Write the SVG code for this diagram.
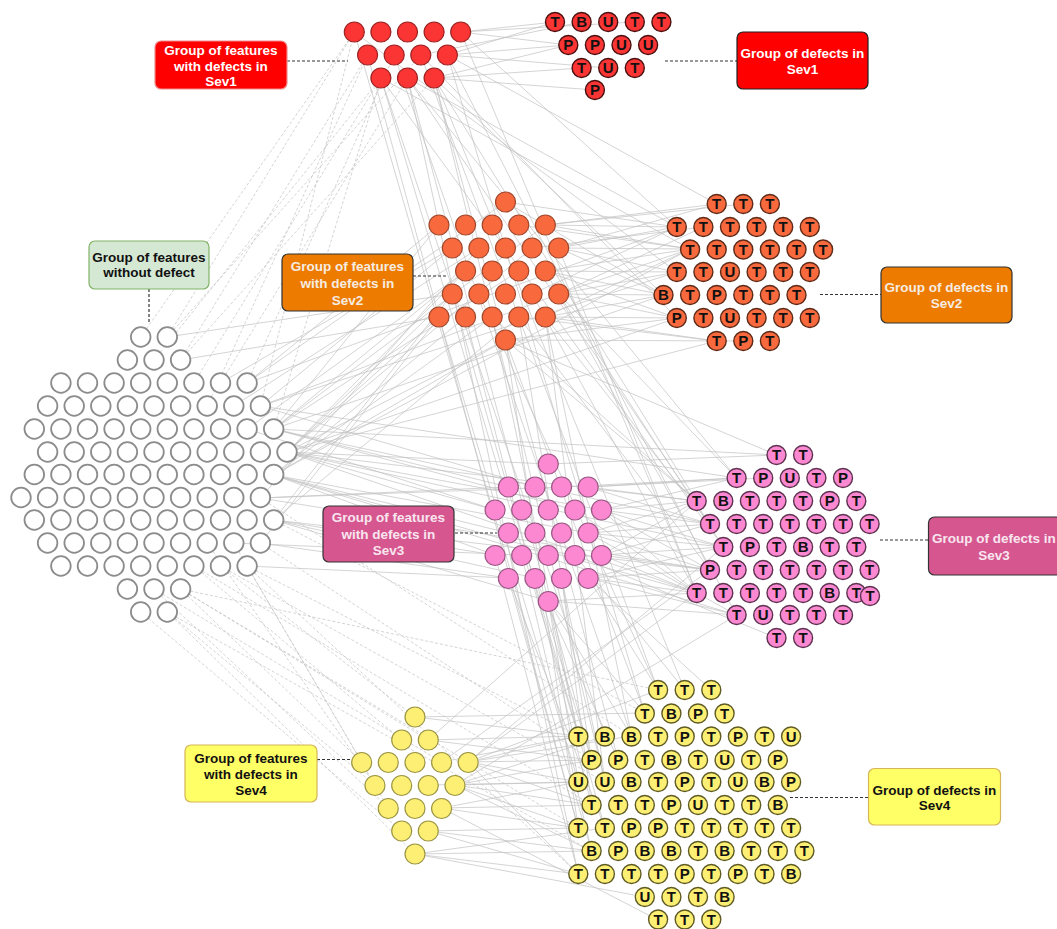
<svg xmlns="http://www.w3.org/2000/svg" width="1057" height="929" viewBox="0 0 1057 929">
<style>
.g{fill:#fff;stroke:#8c8c8c;stroke-width:1.8}
.r{fill:#fb3434;stroke:#9e2020;stroke-width:1.2}
.rd{fill:#fb3434;stroke:#4a1010;stroke-width:1.4}
.o{fill:#f86a3e;stroke:#a2462a;stroke-width:1.2}
.od{fill:#f86a3e;stroke:#5e2a18;stroke-width:1.4}
.p{fill:#fb88d0;stroke:#9a5684;stroke-width:1.2}
.pd{fill:#fb88d0;stroke:#5e3250;stroke-width:1.4}
.y{fill:#fdef74;stroke:#9b9542;stroke-width:1.2}
.yd{fill:#fdef74;stroke:#5e5a22;stroke-width:1.4}
.l{font-family:"Liberation Sans",Arial,sans-serif;font-size:15px;font-weight:bold;text-anchor:middle;fill:#111}
.lb{font-family:"Liberation Sans",Arial,sans-serif;font-size:13.5px;font-weight:bold;text-anchor:middle}
.lead{stroke:#333;stroke-width:1.2;stroke-dasharray:3 2;fill:none}
.c{stroke:#c2c2c2;stroke-width:0.7;fill:none}
.cd{stroke:#c2c2c2;stroke-width:0.7;fill:none;stroke-dasharray:3 2}
</style>
<rect width="1057" height="929" fill="#fff"/>
<g id="connectors">
<path class="c" d="M287 452L439 317M287 452L452.3 294M273.7 429L465.6 271M273.7 429L439 225M260.4 406L452.3 248M273.7 475L465.6 317M273.7 475L492.2 317M287 452L505.5 340M260.4 498L478.9 248M247.1 383L439 225M247.1 383L505.5 202M220.5 383L452.3 248M273.7 520L518.8 317M180.6 360L439 317M167.3 337L452.3 294M287 452L532.1 248M273.7 429L545.4 225M260.4 406L558.7 294M273.7 475L505.5 340M247.1 429L465.6 271M233.8 406L478.9 248M287 452L465.6 271M273.7 520L452.3 294M260.4 543L439 317M273.7 429L518.8 271"/>
<path class="cd" d="M167.3 337L354.3 32M180.6 360L367.6 55M154 360L380.9 78M140.7 337L354.3 32M193.9 383L380.9 78M220.5 383L407.5 78M247.1 383L394.2 55M167.3 337L420.8 55M180.6 360L434.1 78M260.4 406L354.3 32M207.2 406L367.6 55M273.7 429L380.9 78"/>
<path class="c" d="M287 452L495.1 510M273.7 475L508.4 533M273.7 520L495.1 555M260.4 498L508.4 487M287 452L548.3 464M273.7 429L508.4 487M273.7 475L495.1 555M260.4 543L508.4 578M273.7 520L548.3 601M247.1 566L508.4 578M287 452L601.5 510M273.7 429L574.9 510M273.7 475L588.2 533M260.4 498L561.6 487M273.7 520L535 578M260.4 406L535 487M247.1 429L495.1 510M233.8 543L521.7 555"/>
<path class="c" d="M287 452L696.7 501M273.7 429L710 524M273.7 475L696.7 593M287 452L723.3 547M273.7 520L710 570M260.4 406L736.6 478M273.7 429L776.5 455M273.7 475L736.6 615M287 452L696.7 593M260.4 498L710 570"/>
<path class="cd" d="M180.6 589L361.7 762M167.3 612L375 785M154 589L388.3 808M193.9 566L401.7 740M220.5 566L415 717M140.7 612L401.7 831M167.3 612L415 854M180.6 589L428.3 740M247.1 566L361.7 762M207.2 543L375 785M233.8 543L388.3 808M154 589L441.6 762"/>
<path class="cd" d="M247.1 566L578.3 736M260.4 543L591.6 760M180.6 589L578.3 828M167.3 612L591.6 851M273.7 520L644.8 713M247.1 566L578.3 874M220.5 566L604.9 782M180.6 589L658.1 690M260.4 498L631.5 736M193.9 566L591.6 805"/>
<path class="c" d="M460.7 32L555 22M447.4 55L568.3 45M434.1 78L581.6 68M460.7 32L568.3 45M447.4 55L555 22M434.1 78L594.9 90M460.7 32L634.8 22M447.4 55L608.2 68M420.8 55L581.6 22M434.1 78L568.3 45"/>
<path class="c" d="M407.5 78L676.8 227M434.1 78L663.5 295M380.9 78L690.1 249M434.1 78L696.7 501M407.5 78L710 524M447.4 55L716.7 204M460.7 32L676.8 227M380.9 78L578.3 736M407.5 78L591.6 760M434.1 78L604.9 782M394.2 55L631.5 736M420.8 55L658.1 690M447.4 55L644.8 713M367.6 55L578.3 828M380.9 78L723.3 547M407.5 78L736.6 478M354.3 32L591.6 851M434.1 78L684.7 690M460.7 32L696.7 593M420.8 55L676.8 318M407.5 78L578.3 874M447.4 55L710 570M380.9 78L604.9 736M354.3 32L676.8 272M434.1 78L618.2 760"/>
<path class="c" d="M558.7 248L676.8 227M545.4 225L716.7 204M558.7 294L663.5 295M545.4 317L676.8 318M558.7 248L690.1 249M545.4 271L676.8 272M545.4 225L676.8 227M558.7 294L690.1 249M545.4 317L716.7 341M505.5 340L676.8 318M558.7 248L663.5 295M545.4 271L690.1 249M532.1 248L703.4 227M545.4 225L743.3 204M558.7 294L676.8 318M545.4 317L663.5 295M505.5 202L676.8 227M558.7 248L676.8 272M545.4 271L663.5 295M518.8 317L716.7 341M545.4 225L690.1 249M558.7 294L676.8 272M505.5 340L743.3 341M545.4 317L690.1 249M532.1 294L676.8 227M558.7 248L716.7 204M545.4 271L676.8 318M505.5 202L663.5 295M558.7 294L703.4 227M518.8 225L690.1 249"/>
<path class="c" d="M505.5 340L696.7 501M545.4 317L710 524M558.7 294L736.6 478M505.5 340L644.8 713M492.2 317L578.3 736M518.8 317L591.6 760M532.1 294L696.7 593M545.4 317L604.9 782M505.5 340L578.3 828M558.7 294L723.3 547M465.6 317L591.6 805M478.9 294L658.1 690M518.8 317L710 570M545.4 317L631.5 736M492.2 317L696.7 501M505.5 340L776.5 455M439 317L578.3 782M452.3 294L604.9 828M545.4 271L736.6 615M558.7 248L696.7 593"/>
<path class="c" d="M601.5 510L696.7 501M588.2 487L736.6 478M601.5 555L710 570M588.2 533L710 524M588.2 578L696.7 593M601.5 510L710 524M588.2 487L696.7 501M601.5 555L696.7 593M588.2 533L723.3 547M548.3 464L776.5 455M601.5 510L723.3 547M588.2 578L736.6 615M601.5 555L710 524M588.2 487L710 524M548.3 601L736.6 615M588.2 533L696.7 501M601.5 510L736.6 478M588.2 578L710 570M601.5 555L723.3 547M574.9 510L696.7 593M588.2 487L763.2 478M601.5 510L710 570M548.3 601L696.7 593M588.2 533L710 570M601.5 555L696.7 501M561.6 487L736.6 478M588.2 578L723.3 547M574.9 555L776.5 638M601.5 510L696.7 593M588.2 533L736.6 615"/>
<path class="c" d="M548.3 601L578.3 736M535 578L591.6 760M561.6 578L604.9 782M508.4 578L578.3 828M548.3 601L631.5 736M588.2 578L658.1 690M521.7 555L591.6 851M548.3 601L644.8 713M495.1 555L578.3 874M574.9 555L684.7 690M535 578L618.2 760M561.6 578L591.6 805M508.4 578L604.9 828M588.2 578L711.3 690M548.3 601L578.3 782"/>
<path class="c" d="M468.2 762L578.3 736M455 785L591.6 760M468.2 762L578.3 782M441.6 808L578.3 828M428.3 831L591.6 851M415 854L578.3 874M455 785L578.3 782M468.2 762L591.6 805M441.6 808L591.6 805M428.3 740L578.3 736M415 717L644.8 713M468.2 762L658.1 690M455 785L578.3 828M428.3 831L578.3 874M415 854L591.6 851M441.6 808L578.3 782M468.2 762L591.6 760M455 785L604.9 736M428.3 740L591.6 760M415 854L644.8 897M441.6 762L578.3 736M428.3 831L578.3 828M468.2 762L578.3 874M455 785L591.6 851M415 717L578.3 736M441.6 808L658.1 920M428.3 785L578.3 782M468.2 762L631.5 736M455 785L591.6 805M415 854L604.9 828"/>
<path class="c" d="M468.2 762L696.7 593M441.6 762L710 570M455 785L736.6 615M468.2 762L723.3 547M428.3 740L696.7 501M273.7 429L663.5 295M287 452L676.8 318M260.4 406L676.8 272M273.7 475L690.1 249M247.1 383L676.8 227M287 452L716.7 341"/>
</g>
<g id="leaders">
<path class="lead" d="M287 61H348M665 61H737M413 276H448M820 294.5H881M149 289V322M455 533H497M880 540H928M317 759.5H352M790 797.5H868"/>
</g>
<g id="features-no-defect">
<circle class="g" cx="140.7" cy="337" r="9.8"/><circle class="g" cx="167.3" cy="337" r="9.8"/>
<circle class="g" cx="127.4" cy="360" r="9.8"/><circle class="g" cx="154" cy="360" r="9.8"/><circle class="g" cx="180.6" cy="360" r="9.8"/>
<circle class="g" cx="60.9" cy="383" r="9.8"/><circle class="g" cx="87.5" cy="383" r="9.8"/><circle class="g" cx="114.1" cy="383" r="9.8"/><circle class="g" cx="140.7" cy="383" r="9.8"/><circle class="g" cx="167.3" cy="383" r="9.8"/><circle class="g" cx="193.9" cy="383" r="9.8"/><circle class="g" cx="220.5" cy="383" r="9.8"/><circle class="g" cx="247.1" cy="383" r="9.8"/>
<circle class="g" cx="47.6" cy="406" r="9.8"/><circle class="g" cx="74.2" cy="406" r="9.8"/><circle class="g" cx="100.8" cy="406" r="9.8"/><circle class="g" cx="127.4" cy="406" r="9.8"/><circle class="g" cx="154" cy="406" r="9.8"/><circle class="g" cx="180.6" cy="406" r="9.8"/><circle class="g" cx="207.2" cy="406" r="9.8"/><circle class="g" cx="233.8" cy="406" r="9.8"/><circle class="g" cx="260.4" cy="406" r="9.8"/>
<circle class="g" cx="34.3" cy="429" r="9.8"/><circle class="g" cx="60.9" cy="429" r="9.8"/><circle class="g" cx="87.5" cy="429" r="9.8"/><circle class="g" cx="114.1" cy="429" r="9.8"/><circle class="g" cx="140.7" cy="429" r="9.8"/><circle class="g" cx="167.3" cy="429" r="9.8"/><circle class="g" cx="193.9" cy="429" r="9.8"/><circle class="g" cx="220.5" cy="429" r="9.8"/><circle class="g" cx="247.1" cy="429" r="9.8"/><circle class="g" cx="273.7" cy="429" r="9.8"/>
<circle class="g" cx="47.6" cy="452" r="9.8"/><circle class="g" cx="74.2" cy="452" r="9.8"/><circle class="g" cx="100.8" cy="452" r="9.8"/><circle class="g" cx="127.4" cy="452" r="9.8"/><circle class="g" cx="154" cy="452" r="9.8"/><circle class="g" cx="180.6" cy="452" r="9.8"/><circle class="g" cx="207.2" cy="452" r="9.8"/><circle class="g" cx="233.8" cy="452" r="9.8"/><circle class="g" cx="260.4" cy="452" r="9.8"/><circle class="g" cx="287" cy="452" r="9.8"/>
<circle class="g" cx="34.3" cy="474.5" r="9.8"/><circle class="g" cx="60.9" cy="474.5" r="9.8"/><circle class="g" cx="87.5" cy="474.5" r="9.8"/><circle class="g" cx="114.1" cy="474.5" r="9.8"/><circle class="g" cx="140.7" cy="474.5" r="9.8"/><circle class="g" cx="167.3" cy="474.5" r="9.8"/><circle class="g" cx="193.9" cy="474.5" r="9.8"/><circle class="g" cx="220.5" cy="474.5" r="9.8"/><circle class="g" cx="247.1" cy="474.5" r="9.8"/><circle class="g" cx="273.7" cy="474.5" r="9.8"/>
<circle class="g" cx="21" cy="497.5" r="9.8"/><circle class="g" cx="47.6" cy="497.5" r="9.8"/><circle class="g" cx="74.2" cy="497.5" r="9.8"/><circle class="g" cx="100.8" cy="497.5" r="9.8"/><circle class="g" cx="127.4" cy="497.5" r="9.8"/><circle class="g" cx="154" cy="497.5" r="9.8"/><circle class="g" cx="180.6" cy="497.5" r="9.8"/><circle class="g" cx="207.2" cy="497.5" r="9.8"/><circle class="g" cx="233.8" cy="497.5" r="9.8"/><circle class="g" cx="260.4" cy="497.5" r="9.8"/>
<circle class="g" cx="34.3" cy="520" r="9.8"/><circle class="g" cx="60.9" cy="520" r="9.8"/><circle class="g" cx="87.5" cy="520" r="9.8"/><circle class="g" cx="114.1" cy="520" r="9.8"/><circle class="g" cx="140.7" cy="520" r="9.8"/><circle class="g" cx="167.3" cy="520" r="9.8"/><circle class="g" cx="193.9" cy="520" r="9.8"/><circle class="g" cx="220.5" cy="520" r="9.8"/><circle class="g" cx="247.1" cy="520" r="9.8"/><circle class="g" cx="273.7" cy="520" r="9.8"/>
<circle class="g" cx="47.6" cy="543" r="9.8"/><circle class="g" cx="74.2" cy="543" r="9.8"/><circle class="g" cx="100.8" cy="543" r="9.8"/><circle class="g" cx="127.4" cy="543" r="9.8"/><circle class="g" cx="154" cy="543" r="9.8"/><circle class="g" cx="180.6" cy="543" r="9.8"/><circle class="g" cx="207.2" cy="543" r="9.8"/><circle class="g" cx="233.8" cy="543" r="9.8"/><circle class="g" cx="260.4" cy="543" r="9.8"/>
<circle class="g" cx="60.9" cy="566" r="9.8"/><circle class="g" cx="87.5" cy="566" r="9.8"/><circle class="g" cx="114.1" cy="566" r="9.8"/><circle class="g" cx="140.7" cy="566" r="9.8"/><circle class="g" cx="167.3" cy="566" r="9.8"/><circle class="g" cx="193.9" cy="566" r="9.8"/><circle class="g" cx="220.5" cy="566" r="9.8"/><circle class="g" cx="247.1" cy="566" r="9.8"/>
<circle class="g" cx="127.4" cy="589" r="9.8"/><circle class="g" cx="154" cy="589" r="9.8"/><circle class="g" cx="180.6" cy="589" r="9.8"/>
<circle class="g" cx="140.7" cy="612" r="9.8"/><circle class="g" cx="167.3" cy="612" r="9.8"/>
</g>
<g id="features-sev1">
<circle class="r" cx="354.3" cy="32" r="10"/><circle class="r" cx="380.9" cy="32" r="10"/><circle class="r" cx="407.5" cy="32" r="10"/><circle class="r" cx="434.1" cy="32" r="10"/><circle class="r" cx="460.7" cy="32" r="10"/>
<circle class="r" cx="367.6" cy="55" r="10"/><circle class="r" cx="394.2" cy="55" r="10"/><circle class="r" cx="420.8" cy="55" r="10"/><circle class="r" cx="447.4" cy="55" r="10"/>
<circle class="r" cx="380.9" cy="78" r="10"/><circle class="r" cx="407.5" cy="78" r="10"/><circle class="r" cx="434.1" cy="78" r="10"/>
</g>
<g id="defects-sev1">
<circle class="rd" cx="555" cy="22" r="9.5"/><text class="l" x="555" y="27.3">T</text>
<circle class="rd" cx="581.6" cy="22" r="9.5"/><text class="l" x="581.6" y="27.3">B</text>
<circle class="rd" cx="608.2" cy="22" r="9.5"/><text class="l" x="608.2" y="27.3">U</text>
<circle class="rd" cx="634.8" cy="22" r="9.5"/><text class="l" x="634.8" y="27.3">T</text>
<circle class="rd" cx="661.4" cy="22" r="9.5"/><text class="l" x="661.4" y="27.3">T</text>
<circle class="rd" cx="568.3" cy="45" r="9.5"/><text class="l" x="568.3" y="50.3">P</text>
<circle class="rd" cx="594.9" cy="45" r="9.5"/><text class="l" x="594.9" y="50.3">P</text>
<circle class="rd" cx="621.5" cy="45" r="9.5"/><text class="l" x="621.5" y="50.3">U</text>
<circle class="rd" cx="648.1" cy="45" r="9.5"/><text class="l" x="648.1" y="50.3">U</text>
<circle class="rd" cx="581.6" cy="68" r="9.5"/><text class="l" x="581.6" y="73.3">T</text>
<circle class="rd" cx="608.2" cy="68" r="9.5"/><text class="l" x="608.2" y="73.3">U</text>
<circle class="rd" cx="634.8" cy="68" r="9.5"/><text class="l" x="634.8" y="73.3">T</text>
<circle class="rd" cx="594.9" cy="90" r="9.5"/><text class="l" x="594.9" y="95.3">P</text>
</g>
<g id="features-sev2">
<circle class="o" cx="505.5" cy="202" r="10"/>
<circle class="o" cx="439" cy="225" r="10"/><circle class="o" cx="465.6" cy="225" r="10"/><circle class="o" cx="492.2" cy="225" r="10"/><circle class="o" cx="518.8" cy="225" r="10"/><circle class="o" cx="545.4" cy="225" r="10"/>
<circle class="o" cx="452.3" cy="248" r="10"/><circle class="o" cx="478.9" cy="248" r="10"/><circle class="o" cx="505.5" cy="248" r="10"/><circle class="o" cx="532.1" cy="248" r="10"/><circle class="o" cx="558.7" cy="248" r="10"/>
<circle class="o" cx="465.6" cy="271" r="10"/><circle class="o" cx="492.2" cy="271" r="10"/><circle class="o" cx="518.8" cy="271" r="10"/><circle class="o" cx="545.4" cy="271" r="10"/>
<circle class="o" cx="452.3" cy="294" r="10"/><circle class="o" cx="478.9" cy="294" r="10"/><circle class="o" cx="505.5" cy="294" r="10"/><circle class="o" cx="532.1" cy="294" r="10"/><circle class="o" cx="558.7" cy="294" r="10"/>
<circle class="o" cx="439" cy="317" r="10"/><circle class="o" cx="465.6" cy="317" r="10"/><circle class="o" cx="492.2" cy="317" r="10"/><circle class="o" cx="518.8" cy="317" r="10"/><circle class="o" cx="545.4" cy="317" r="10"/>
<circle class="o" cx="505.5" cy="340" r="10"/>
</g>
<g id="defects-sev2">
<circle class="od" cx="716.7" cy="204" r="9.5"/><text class="l" x="716.7" y="209.3">T</text>
<circle class="od" cx="743.3" cy="204" r="9.5"/><text class="l" x="743.3" y="209.3">T</text>
<circle class="od" cx="769.9" cy="204" r="9.5"/><text class="l" x="769.9" y="209.3">T</text>
<circle class="od" cx="676.8" cy="227" r="9.5"/><text class="l" x="676.8" y="232.3">T</text>
<circle class="od" cx="703.4" cy="227" r="9.5"/><text class="l" x="703.4" y="232.3">T</text>
<circle class="od" cx="730" cy="227" r="9.5"/><text class="l" x="730" y="232.3">T</text>
<circle class="od" cx="756.6" cy="227" r="9.5"/><text class="l" x="756.6" y="232.3">T</text>
<circle class="od" cx="783.2" cy="227" r="9.5"/><text class="l" x="783.2" y="232.3">T</text>
<circle class="od" cx="809.8" cy="227" r="9.5"/><text class="l" x="809.8" y="232.3">T</text>
<circle class="od" cx="690.1" cy="249.5" r="9.5"/><text class="l" x="690.1" y="254.8">T</text>
<circle class="od" cx="716.7" cy="249.5" r="9.5"/><text class="l" x="716.7" y="254.8">T</text>
<circle class="od" cx="743.3" cy="249.5" r="9.5"/><text class="l" x="743.3" y="254.8">T</text>
<circle class="od" cx="769.9" cy="249.5" r="9.5"/><text class="l" x="769.9" y="254.8">T</text>
<circle class="od" cx="796.5" cy="249.5" r="9.5"/><text class="l" x="796.5" y="254.8">T</text>
<circle class="od" cx="823.1" cy="249.5" r="9.5"/><text class="l" x="823.1" y="254.8">T</text>
<circle class="od" cx="676.8" cy="272" r="9.5"/><text class="l" x="676.8" y="277.3">T</text>
<circle class="od" cx="703.4" cy="272" r="9.5"/><text class="l" x="703.4" y="277.3">T</text>
<circle class="od" cx="730" cy="272" r="9.5"/><text class="l" x="730" y="277.3">U</text>
<circle class="od" cx="756.6" cy="272" r="9.5"/><text class="l" x="756.6" y="277.3">T</text>
<circle class="od" cx="783.2" cy="272" r="9.5"/><text class="l" x="783.2" y="277.3">T</text>
<circle class="od" cx="809.8" cy="272" r="9.5"/><text class="l" x="809.8" y="277.3">T</text>
<circle class="od" cx="663.5" cy="295" r="9.5"/><text class="l" x="663.5" y="300.3">B</text>
<circle class="od" cx="690.1" cy="295" r="9.5"/><text class="l" x="690.1" y="300.3">T</text>
<circle class="od" cx="716.7" cy="295" r="9.5"/><text class="l" x="716.7" y="300.3">P</text>
<circle class="od" cx="743.3" cy="295" r="9.5"/><text class="l" x="743.3" y="300.3">T</text>
<circle class="od" cx="769.9" cy="295" r="9.5"/><text class="l" x="769.9" y="300.3">T</text>
<circle class="od" cx="796.5" cy="295" r="9.5"/><text class="l" x="796.5" y="300.3">T</text>
<circle class="od" cx="676.8" cy="318" r="9.5"/><text class="l" x="676.8" y="323.3">P</text>
<circle class="od" cx="703.4" cy="318" r="9.5"/><text class="l" x="703.4" y="323.3">T</text>
<circle class="od" cx="730" cy="318" r="9.5"/><text class="l" x="730" y="323.3">U</text>
<circle class="od" cx="756.6" cy="318" r="9.5"/><text class="l" x="756.6" y="323.3">T</text>
<circle class="od" cx="783.2" cy="318" r="9.5"/><text class="l" x="783.2" y="323.3">T</text>
<circle class="od" cx="809.8" cy="318" r="9.5"/><text class="l" x="809.8" y="323.3">T</text>
<circle class="od" cx="716.7" cy="341" r="9.5"/><text class="l" x="716.7" y="346.3">T</text>
<circle class="od" cx="743.3" cy="341" r="9.5"/><text class="l" x="743.3" y="346.3">P</text>
<circle class="od" cx="769.9" cy="341" r="9.5"/><text class="l" x="769.9" y="346.3">T</text>
</g>
<g id="features-sev3">
<circle class="p" cx="548.3" cy="464" r="10"/>
<circle class="p" cx="508.4" cy="487" r="10"/><circle class="p" cx="535" cy="487" r="10"/><circle class="p" cx="561.6" cy="487" r="10"/><circle class="p" cx="588.2" cy="487" r="10"/>
<circle class="p" cx="495.1" cy="510" r="10"/><circle class="p" cx="521.7" cy="510" r="10"/><circle class="p" cx="548.3" cy="510" r="10"/><circle class="p" cx="574.9" cy="510" r="10"/><circle class="p" cx="601.5" cy="510" r="10"/>
<circle class="p" cx="508.4" cy="533" r="10"/><circle class="p" cx="535" cy="533" r="10"/><circle class="p" cx="561.6" cy="533" r="10"/><circle class="p" cx="588.2" cy="533" r="10"/>
<circle class="p" cx="495.1" cy="555.5" r="10"/><circle class="p" cx="521.7" cy="555.5" r="10"/><circle class="p" cx="548.3" cy="555.5" r="10"/><circle class="p" cx="574.9" cy="555.5" r="10"/><circle class="p" cx="601.5" cy="555.5" r="10"/>
<circle class="p" cx="508.4" cy="578.5" r="10"/><circle class="p" cx="535" cy="578.5" r="10"/><circle class="p" cx="561.6" cy="578.5" r="10"/><circle class="p" cx="588.2" cy="578.5" r="10"/>
<circle class="p" cx="548.3" cy="601.5" r="10"/>
</g>
<g id="defects-sev3">
<circle class="pd" cx="776.5" cy="455" r="9.5"/><text class="l" x="776.5" y="460.3">T</text>
<circle class="pd" cx="803.1" cy="455" r="9.5"/><text class="l" x="803.1" y="460.3">T</text>
<circle class="pd" cx="736.6" cy="478" r="9.5"/><text class="l" x="736.6" y="483.3">T</text>
<circle class="pd" cx="763.2" cy="478" r="9.5"/><text class="l" x="763.2" y="483.3">P</text>
<circle class="pd" cx="789.8" cy="478" r="9.5"/><text class="l" x="789.8" y="483.3">U</text>
<circle class="pd" cx="816.4" cy="478" r="9.5"/><text class="l" x="816.4" y="483.3">T</text>
<circle class="pd" cx="843" cy="478" r="9.5"/><text class="l" x="843" y="483.3">P</text>
<circle class="pd" cx="696.7" cy="501" r="9.5"/><text class="l" x="696.7" y="506.3">T</text>
<circle class="pd" cx="723.3" cy="501" r="9.5"/><text class="l" x="723.3" y="506.3">B</text>
<circle class="pd" cx="749.9" cy="501" r="9.5"/><text class="l" x="749.9" y="506.3">T</text>
<circle class="pd" cx="776.5" cy="501" r="9.5"/><text class="l" x="776.5" y="506.3">T</text>
<circle class="pd" cx="803.1" cy="501" r="9.5"/><text class="l" x="803.1" y="506.3">T</text>
<circle class="pd" cx="829.7" cy="501" r="9.5"/><text class="l" x="829.7" y="506.3">P</text>
<circle class="pd" cx="856.3" cy="501" r="9.5"/><text class="l" x="856.3" y="506.3">T</text>
<circle class="pd" cx="710" cy="524" r="9.5"/><text class="l" x="710" y="529.3">T</text>
<circle class="pd" cx="736.6" cy="524" r="9.5"/><text class="l" x="736.6" y="529.3">T</text>
<circle class="pd" cx="763.2" cy="524" r="9.5"/><text class="l" x="763.2" y="529.3">T</text>
<circle class="pd" cx="789.8" cy="524" r="9.5"/><text class="l" x="789.8" y="529.3">T</text>
<circle class="pd" cx="816.4" cy="524" r="9.5"/><text class="l" x="816.4" y="529.3">T</text>
<circle class="pd" cx="843" cy="524" r="9.5"/><text class="l" x="843" y="529.3">T</text>
<circle class="pd" cx="869.6" cy="524" r="9.5"/><text class="l" x="869.6" y="529.3">T</text>
<circle class="pd" cx="723.3" cy="547" r="9.5"/><text class="l" x="723.3" y="552.3">T</text>
<circle class="pd" cx="749.9" cy="547" r="9.5"/><text class="l" x="749.9" y="552.3">P</text>
<circle class="pd" cx="776.5" cy="547" r="9.5"/><text class="l" x="776.5" y="552.3">T</text>
<circle class="pd" cx="803.1" cy="547" r="9.5"/><text class="l" x="803.1" y="552.3">B</text>
<circle class="pd" cx="829.7" cy="547" r="9.5"/><text class="l" x="829.7" y="552.3">T</text>
<circle class="pd" cx="856.3" cy="547" r="9.5"/><text class="l" x="856.3" y="552.3">T</text>
<circle class="pd" cx="710" cy="570" r="9.5"/><text class="l" x="710" y="575.3">P</text>
<circle class="pd" cx="736.6" cy="570" r="9.5"/><text class="l" x="736.6" y="575.3">T</text>
<circle class="pd" cx="763.2" cy="570" r="9.5"/><text class="l" x="763.2" y="575.3">T</text>
<circle class="pd" cx="789.8" cy="570" r="9.5"/><text class="l" x="789.8" y="575.3">T</text>
<circle class="pd" cx="816.4" cy="570" r="9.5"/><text class="l" x="816.4" y="575.3">T</text>
<circle class="pd" cx="843" cy="570" r="9.5"/><text class="l" x="843" y="575.3">T</text>
<circle class="pd" cx="869.6" cy="570" r="9.5"/><text class="l" x="869.6" y="575.3">T</text>
<circle class="pd" cx="696.7" cy="593" r="9.5"/><text class="l" x="696.7" y="598.3">T</text>
<circle class="pd" cx="723.3" cy="593" r="9.5"/><text class="l" x="723.3" y="598.3">T</text>
<circle class="pd" cx="749.9" cy="593" r="9.5"/><text class="l" x="749.9" y="598.3">T</text>
<circle class="pd" cx="776.5" cy="593" r="9.5"/><text class="l" x="776.5" y="598.3">T</text>
<circle class="pd" cx="803.1" cy="593" r="9.5"/><text class="l" x="803.1" y="598.3">T</text>
<circle class="pd" cx="829.7" cy="593" r="9.5"/><text class="l" x="829.7" y="598.3">B</text>
<circle class="pd" cx="856.3" cy="593" r="9.5"/><text class="l" x="856.3" y="598.3">T</text>
<circle class="pd" cx="870" cy="596" r="9.5"/><text class="l" x="870" y="601.3">T</text>
<circle class="pd" cx="736.6" cy="615" r="9.5"/><text class="l" x="736.6" y="620.3">T</text>
<circle class="pd" cx="763.2" cy="615" r="9.5"/><text class="l" x="763.2" y="620.3">U</text>
<circle class="pd" cx="789.8" cy="615" r="9.5"/><text class="l" x="789.8" y="620.3">T</text>
<circle class="pd" cx="816.4" cy="615" r="9.5"/><text class="l" x="816.4" y="620.3">T</text>
<circle class="pd" cx="843" cy="615" r="9.5"/><text class="l" x="843" y="620.3">T</text>
<circle class="pd" cx="776.5" cy="638" r="9.5"/><text class="l" x="776.5" y="643.3">T</text>
<circle class="pd" cx="803.1" cy="638" r="9.5"/><text class="l" x="803.1" y="643.3">T</text>
</g>
<g id="features-sev4">
<circle class="y" cx="415" cy="717" r="10"/>
<circle class="y" cx="401.7" cy="740" r="10"/><circle class="y" cx="428.3" cy="740" r="10"/>
<circle class="y" cx="361.7" cy="762.5" r="10"/><circle class="y" cx="388.3" cy="762.5" r="10"/><circle class="y" cx="415" cy="762.5" r="10"/><circle class="y" cx="441.6" cy="762.5" r="10"/><circle class="y" cx="468.2" cy="762.5" r="10"/>
<circle class="y" cx="375" cy="785.5" r="10"/><circle class="y" cx="401.7" cy="785.5" r="10"/><circle class="y" cx="428.3" cy="785.5" r="10"/><circle class="y" cx="455" cy="785.5" r="10"/>
<circle class="y" cx="388.3" cy="808.5" r="10"/><circle class="y" cx="415" cy="808.5" r="10"/><circle class="y" cx="441.6" cy="808.5" r="10"/>
<circle class="y" cx="401.7" cy="831" r="10"/><circle class="y" cx="428.3" cy="831" r="10"/>
<circle class="y" cx="415" cy="854" r="10"/>
</g>
<g id="defects-sev4">
<circle class="yd" cx="658.1" cy="690" r="9.5"/><text class="l" x="658.1" y="695.3">T</text>
<circle class="yd" cx="684.7" cy="690" r="9.5"/><text class="l" x="684.7" y="695.3">T</text>
<circle class="yd" cx="711.3" cy="690" r="9.5"/><text class="l" x="711.3" y="695.3">T</text>
<circle class="yd" cx="644.8" cy="713.5" r="9.5"/><text class="l" x="644.8" y="718.8">T</text>
<circle class="yd" cx="671.4" cy="713.5" r="9.5"/><text class="l" x="671.4" y="718.8">B</text>
<circle class="yd" cx="698" cy="713.5" r="9.5"/><text class="l" x="698" y="718.8">P</text>
<circle class="yd" cx="724.6" cy="713.5" r="9.5"/><text class="l" x="724.6" y="718.8">T</text>
<circle class="yd" cx="578.3" cy="736.5" r="9.5"/><text class="l" x="578.3" y="741.8">T</text>
<circle class="yd" cx="604.9" cy="736.5" r="9.5"/><text class="l" x="604.9" y="741.8">B</text>
<circle class="yd" cx="631.5" cy="736.5" r="9.5"/><text class="l" x="631.5" y="741.8">B</text>
<circle class="yd" cx="658.1" cy="736.5" r="9.5"/><text class="l" x="658.1" y="741.8">T</text>
<circle class="yd" cx="684.7" cy="736.5" r="9.5"/><text class="l" x="684.7" y="741.8">P</text>
<circle class="yd" cx="711.3" cy="736.5" r="9.5"/><text class="l" x="711.3" y="741.8">T</text>
<circle class="yd" cx="737.9" cy="736.5" r="9.5"/><text class="l" x="737.9" y="741.8">P</text>
<circle class="yd" cx="764.5" cy="736.5" r="9.5"/><text class="l" x="764.5" y="741.8">T</text>
<circle class="yd" cx="791.1" cy="736.5" r="9.5"/><text class="l" x="791.1" y="741.8">U</text>
<circle class="yd" cx="591.6" cy="760" r="9.5"/><text class="l" x="591.6" y="765.3">P</text>
<circle class="yd" cx="618.2" cy="760" r="9.5"/><text class="l" x="618.2" y="765.3">P</text>
<circle class="yd" cx="644.8" cy="760" r="9.5"/><text class="l" x="644.8" y="765.3">T</text>
<circle class="yd" cx="671.4" cy="760" r="9.5"/><text class="l" x="671.4" y="765.3">B</text>
<circle class="yd" cx="698" cy="760" r="9.5"/><text class="l" x="698" y="765.3">T</text>
<circle class="yd" cx="724.6" cy="760" r="9.5"/><text class="l" x="724.6" y="765.3">U</text>
<circle class="yd" cx="751.2" cy="760" r="9.5"/><text class="l" x="751.2" y="765.3">T</text>
<circle class="yd" cx="777.8" cy="760" r="9.5"/><text class="l" x="777.8" y="765.3">P</text>
<circle class="yd" cx="578.3" cy="782" r="9.5"/><text class="l" x="578.3" y="787.3">U</text>
<circle class="yd" cx="604.9" cy="782" r="9.5"/><text class="l" x="604.9" y="787.3">U</text>
<circle class="yd" cx="631.5" cy="782" r="9.5"/><text class="l" x="631.5" y="787.3">B</text>
<circle class="yd" cx="658.1" cy="782" r="9.5"/><text class="l" x="658.1" y="787.3">T</text>
<circle class="yd" cx="684.7" cy="782" r="9.5"/><text class="l" x="684.7" y="787.3">P</text>
<circle class="yd" cx="711.3" cy="782" r="9.5"/><text class="l" x="711.3" y="787.3">T</text>
<circle class="yd" cx="737.9" cy="782" r="9.5"/><text class="l" x="737.9" y="787.3">U</text>
<circle class="yd" cx="764.5" cy="782" r="9.5"/><text class="l" x="764.5" y="787.3">B</text>
<circle class="yd" cx="791.1" cy="782" r="9.5"/><text class="l" x="791.1" y="787.3">P</text>
<circle class="yd" cx="591.6" cy="805" r="9.5"/><text class="l" x="591.6" y="810.3">T</text>
<circle class="yd" cx="618.2" cy="805" r="9.5"/><text class="l" x="618.2" y="810.3">T</text>
<circle class="yd" cx="644.8" cy="805" r="9.5"/><text class="l" x="644.8" y="810.3">T</text>
<circle class="yd" cx="671.4" cy="805" r="9.5"/><text class="l" x="671.4" y="810.3">P</text>
<circle class="yd" cx="698" cy="805" r="9.5"/><text class="l" x="698" y="810.3">U</text>
<circle class="yd" cx="724.6" cy="805" r="9.5"/><text class="l" x="724.6" y="810.3">T</text>
<circle class="yd" cx="751.2" cy="805" r="9.5"/><text class="l" x="751.2" y="810.3">T</text>
<circle class="yd" cx="777.8" cy="805" r="9.5"/><text class="l" x="777.8" y="810.3">B</text>
<circle class="yd" cx="578.3" cy="828" r="9.5"/><text class="l" x="578.3" y="833.3">T</text>
<circle class="yd" cx="604.9" cy="828" r="9.5"/><text class="l" x="604.9" y="833.3">T</text>
<circle class="yd" cx="631.5" cy="828" r="9.5"/><text class="l" x="631.5" y="833.3">P</text>
<circle class="yd" cx="658.1" cy="828" r="9.5"/><text class="l" x="658.1" y="833.3">P</text>
<circle class="yd" cx="684.7" cy="828" r="9.5"/><text class="l" x="684.7" y="833.3">T</text>
<circle class="yd" cx="711.3" cy="828" r="9.5"/><text class="l" x="711.3" y="833.3">T</text>
<circle class="yd" cx="737.9" cy="828" r="9.5"/><text class="l" x="737.9" y="833.3">T</text>
<circle class="yd" cx="764.5" cy="828" r="9.5"/><text class="l" x="764.5" y="833.3">T</text>
<circle class="yd" cx="791.1" cy="828" r="9.5"/><text class="l" x="791.1" y="833.3">T</text>
<circle class="yd" cx="591.6" cy="851" r="9.5"/><text class="l" x="591.6" y="856.3">B</text>
<circle class="yd" cx="618.2" cy="851" r="9.5"/><text class="l" x="618.2" y="856.3">P</text>
<circle class="yd" cx="644.8" cy="851" r="9.5"/><text class="l" x="644.8" y="856.3">B</text>
<circle class="yd" cx="671.4" cy="851" r="9.5"/><text class="l" x="671.4" y="856.3">B</text>
<circle class="yd" cx="698" cy="851" r="9.5"/><text class="l" x="698" y="856.3">T</text>
<circle class="yd" cx="724.6" cy="851" r="9.5"/><text class="l" x="724.6" y="856.3">B</text>
<circle class="yd" cx="751.2" cy="851" r="9.5"/><text class="l" x="751.2" y="856.3">T</text>
<circle class="yd" cx="777.8" cy="851" r="9.5"/><text class="l" x="777.8" y="856.3">T</text>
<circle class="yd" cx="804.4" cy="851" r="9.5"/><text class="l" x="804.4" y="856.3">T</text>
<circle class="yd" cx="578.3" cy="874" r="9.5"/><text class="l" x="578.3" y="879.3">T</text>
<circle class="yd" cx="604.9" cy="874" r="9.5"/><text class="l" x="604.9" y="879.3">T</text>
<circle class="yd" cx="631.5" cy="874" r="9.5"/><text class="l" x="631.5" y="879.3">T</text>
<circle class="yd" cx="658.1" cy="874" r="9.5"/><text class="l" x="658.1" y="879.3">T</text>
<circle class="yd" cx="684.7" cy="874" r="9.5"/><text class="l" x="684.7" y="879.3">P</text>
<circle class="yd" cx="711.3" cy="874" r="9.5"/><text class="l" x="711.3" y="879.3">T</text>
<circle class="yd" cx="737.9" cy="874" r="9.5"/><text class="l" x="737.9" y="879.3">P</text>
<circle class="yd" cx="764.5" cy="874" r="9.5"/><text class="l" x="764.5" y="879.3">T</text>
<circle class="yd" cx="791.1" cy="874" r="9.5"/><text class="l" x="791.1" y="879.3">B</text>
<circle class="yd" cx="644.8" cy="897" r="9.5"/><text class="l" x="644.8" y="902.3">U</text>
<circle class="yd" cx="671.4" cy="897" r="9.5"/><text class="l" x="671.4" y="902.3">T</text>
<circle class="yd" cx="698" cy="897" r="9.5"/><text class="l" x="698" y="902.3">T</text>
<circle class="yd" cx="724.6" cy="897" r="9.5"/><text class="l" x="724.6" y="902.3">B</text>
<circle class="yd" cx="658.1" cy="919.5" r="9.5"/><text class="l" x="658.1" y="924.8">T</text>
<circle class="yd" cx="684.7" cy="919.5" r="9.5"/><text class="l" x="684.7" y="924.8">T</text>
<circle class="yd" cx="711.3" cy="919.5" r="9.5"/><text class="l" x="711.3" y="924.8">T</text>
</g>
<g id="label-features-sev1">
<rect x="155" y="41" width="132" height="48" rx="6" fill="#ff0000" stroke="#f08c8c" stroke-width="1.2"/>
<text class="lb" fill="#fff"><tspan x="221" y="54.5">Group of features</tspan><tspan x="221" y="70.5">with defects in</tspan><tspan x="221" y="86">Sev1</tspan></text>
</g>
<g id="label-defects-sev1">
<rect x="737" y="32" width="131" height="57" rx="6" fill="#ff0000" stroke="#222" stroke-width="1.2"/>
<text class="lb" fill="#fff"><tspan x="802.5" y="57.5">Group of defects in</tspan><tspan x="802.5" y="73.5">Sev1</tspan></text>
</g>
<g id="label-features-nodefect">
<rect x="89" y="241" width="120" height="48" rx="6" fill="#d5e8d4" stroke="#82b366" stroke-width="1.2"/>
<text class="lb" fill="#111"><tspan x="149" y="262">Group of features</tspan><tspan x="149" y="277">without defect</tspan></text>
</g>
<g id="label-features-sev2">
<rect x="282" y="254" width="131" height="57" rx="6" fill="#ec7b00" stroke="#333" stroke-width="1.2"/>
<text class="lb" fill="#f6ece2"><tspan x="347.5" y="271">Group of features</tspan><tspan x="347.5" y="288">with defects in</tspan><tspan x="347.5" y="304.5">Sev2</tspan></text>
</g>
<g id="label-defects-sev2">
<rect x="881" y="267" width="131" height="56" rx="6" fill="#ec7b00" stroke="#333" stroke-width="1.2"/>
<text class="lb" fill="#f6ece2"><tspan x="946.5" y="291.5">Group of defects in</tspan><tspan x="946.5" y="308">Sev2</tspan></text>
</g>
<g id="label-features-sev3">
<rect x="323" y="506" width="131" height="56" rx="6" fill="#d6568f" stroke="#333" stroke-width="1.2"/>
<text class="lb" fill="#f8e6ef"><tspan x="388.5" y="522">Group of features</tspan><tspan x="388.5" y="538.5">with defects in</tspan><tspan x="388.5" y="555">Sev3</tspan></text>
</g>
<g id="label-defects-sev3">
<rect x="928.5" y="517" width="136" height="58" rx="6" fill="#d6568f" stroke="#333" stroke-width="1.2"/>
<text class="lb" fill="#f8e6ef"><tspan x="994" y="543">Group of defects in</tspan><tspan x="994" y="560">Sev3</tspan></text>
</g>
<g id="label-features-sev4">
<rect x="185" y="745" width="132" height="57" rx="6" fill="#ffff66" stroke="#d6b656" stroke-width="1.2"/>
<text class="lb" fill="#111"><tspan x="251" y="762.5">Group of features</tspan><tspan x="251" y="778.5">with defects in</tspan><tspan x="251" y="794.5">Sev4</tspan></text>
</g>
<g id="label-defects-sev4">
<rect x="868.5" y="768.5" width="132" height="56.5" rx="6" fill="#ffff66" stroke="#d6b656" stroke-width="1.2"/>
<text class="lb" fill="#111"><tspan x="934.5" y="795">Group of defects in</tspan><tspan x="934.5" y="810">Sev4</tspan></text>
</g>
</svg>
